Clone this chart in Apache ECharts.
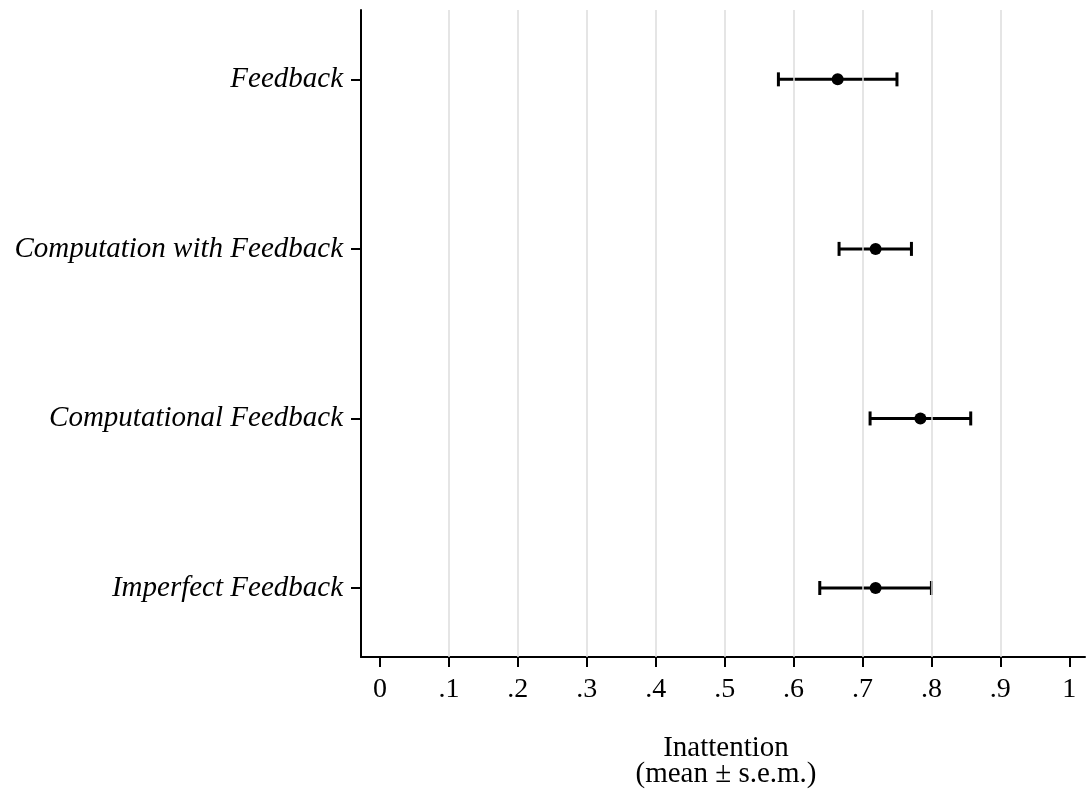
<!DOCTYPE html>
<html>
<head>
<meta charset="utf-8">
<script src="https://cdn.jsdelivr.net/npm/echarts@6/dist/echarts.min.js"></script>
<style>html,body{margin:0;padding:0;background:#fff;}#c{width:1086px;height:797px;}</style>
</head>
<body>
<div id="c"></div>
<script>
const categories = ['Feedback', 'Computation with Feedback', 'Computational Feedback', 'Imperfect Feedback'];
const means = [0.664, 0.719, 0.784, 0.719];
const lower = [0.578, 0.666, 0.711, 0.638];
const upper = [0.750, 0.771, 0.857, 0.800];
const xTicks = [0, 0.1, 0.2, 0.3, 0.4, 0.5, 0.6, 0.7, 0.8, 0.9, 1];
const xTickLabels = ['0', '.1', '.2', '.3', '.4', '.5', '.6', '.7', '.8', '.9', '1'];
const gridValues = [0.1, 0.2, 0.3, 0.4, 0.5, 0.6, 0.7, 0.8, 0.9];
const catPos = [1, 2, 3, 4];

const FONT = 'Liberation Serif';
const chart = echarts.init(document.getElementById('c'), null, {renderer: 'canvas'});

const pointData = means.map((m, i) => [m, catPos[i]]);
const barData = lower.map((lo, i) => [lo, upper[i], catPos[i]]);

chart.setOption({
  animation: false,
  backgroundColor: '#fff',
  grid: {left: 361, top: 10, right: 1, bottom: 140, containLabel: false},
  xAxis: {
    type: 'value',
    min: -0.02757,
    max: 1.0228,
    axisLine: {show: true, onZero: false, lineStyle: {color: '#000', width: 2}},
    axisTick: {show: true, customValues: xTicks, length: 10, lineStyle: {color: '#000', width: 2}},
    axisLabel: {
      customValues: xTicks,
      formatter: v => xTickLabels[xTicks.findIndex(t => Math.abs(t - v) < 1e-6)],
      fontFamily: FONT, fontSize: 28, color: '#000', margin: 19
    },
    splitLine: {show: false},
    name: 'Inattention\n(mean ± s.e.m.)',
    nameLocation: 'middle',
    nameGap: 78,
    nameTextStyle: {fontFamily: FONT, fontSize: 29, color: '#000', lineHeight: 26, padding: [0, 0, 0, 6]}
  },
  yAxis: {
    type: 'value',
    inverse: true,
    min: 0.591,
    max: 4.407,
    axisLine: {show: true, onZero: false, lineStyle: {color: '#000', width: 2}},
    axisTick: {show: true, customValues: catPos, length: 10, lineStyle: {color: '#000', width: 2}},
    axisLabel: {
      customValues: catPos,
      formatter: v => categories[Math.round(v) - 1],
      fontFamily: FONT, fontStyle: 'italic', fontSize: 29, color: '#000', margin: 18
    },
    splitLine: {show: false}
  },
  series: [
    {
      type: 'scatter',
      data: [],
      silent: true,
      markLine: {
        silent: true,
        symbol: 'none',
        label: {show: false},
        lineStyle: {color: '#dcdcdc', width: 1.5, type: 'solid'},
        data: gridValues.map(v => ({xAxis: v}))
      },
      z: 1
    },
    {
      type: 'custom',
      data: barData,
      encode: {x: [0, 1], y: 2},
      renderItem: function (params, api) {
        const y = api.value(2);
        const p1 = api.coord([api.value(0), y]);
        const p2 = api.coord([api.value(1), y]);
        const h = 7;
        const style = {stroke: '#000', lineWidth: 3};
        return {
          type: 'group',
          children: [
            {type: 'line', shape: {x1: p1[0], y1: p1[1], x2: p2[0], y2: p2[1]}, style: style},
            {type: 'line', shape: {x1: p1[0], y1: p1[1] - h, x2: p1[0], y2: p1[1] + h}, style: style},
            {type: 'line', shape: {x1: p2[0], y1: p2[1] - h, x2: p2[0], y2: p2[1] + h}, style: style}
          ]
        };
      },
      z: 3
    },
    {
      type: 'scatter',
      data: pointData,
      symbol: 'circle',
      symbolSize: 12,
      itemStyle: {color: '#000', opacity: 1},
      z: 4
    }
  ]
});
</script>
</body>
</html>
